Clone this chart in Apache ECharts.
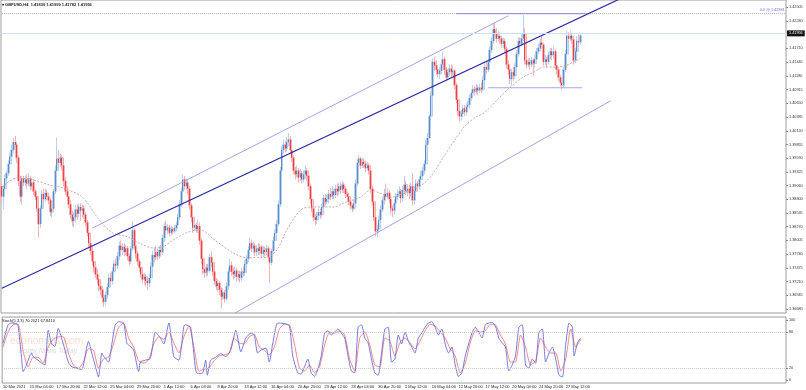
<!DOCTYPE html>
<html><head><meta charset="utf-8">
<script src="https://cdn.jsdelivr.net/npm/echarts@6/dist/echarts.min.js"></script>
<style>html,body{margin:0;padding:0;background:#fff}#c{width:806px;height:390px}</style>
</head><body><div id="c"></div><script>
// ---- tick labels ----
const timeLabels = ["10 Mar 2021","15 Mar 04:00","17 Mar 20:00","22 Mar 12:00","25 Mar 04:00","29 Mar 20:00","1 Apr 12:00","6 Apr 04:00","8 Apr 20:00","13 Apr 12:00","16 Apr 04:00","20 Apr 20:00","23 Apr 12:00","28 Apr 04:00","30 Apr 20:00","5 May 12:00","10 May 04:00","12 May 20:00","17 May 12:00","20 May 04:00","24 May 20:00","27 May 12:00"];
const priceTicks = [1.36680,1.36945,1.37210,1.37475,1.37740,1.38005,1.38270,1.38535,1.38800,1.39060,1.39325,1.39590,1.39855,1.40120,1.40385,1.40650,1.40915,1.41180,1.41445,1.41710,1.42240,1.42505];
const stochTicks = [0,20,80,100];
// ---- GBPUSD H4 candles (one line per trading day) ----
const open = [
1.3905,1.3885,1.3900,
1.3920,1.3930,1.3948,1.3962,1.3975,1.3990,
1.3985,1.3960,1.3915,1.3885,1.3920,1.3912,
1.3918,1.3910,1.3920,1.3905,1.3912,1.3895,
1.3885,1.3862,1.3832,1.3862,1.3890,1.3880,
1.3892,1.3885,1.3878,1.3855,1.3862,1.3895,
1.3935,1.3958,1.3950,1.3960,1.3945,1.3915,
1.3895,1.3885,1.3870,1.3850,1.3838,1.3845,
1.3860,1.3852,1.3865,1.3858,1.3862,1.3850,
1.3835,1.3815,1.3795,1.3780,1.3760,1.3748,
1.3735,1.3725,1.3712,1.3705,1.3690,1.3682,
1.3695,1.3710,1.3728,1.3722,1.3740,1.3755,
1.3752,1.3770,1.3790,1.3782,1.3788,1.3778,
1.3785,1.3770,1.3760,1.3785,1.3820,1.3790,
1.3775,1.3760,1.3748,1.3735,1.3725,1.3730,
1.3722,1.3718,1.3728,1.3750,1.3772,1.3768,
1.3778,1.3770,1.3782,1.3778,1.3805,1.3828,
1.3820,1.3825,1.3815,1.3822,1.3818,1.3824,
1.3830,1.3845,1.3870,1.3895,1.3918,1.3905,
1.3912,1.3900,1.3868,1.3845,1.3825,1.3830,
1.3822,1.3828,1.3800,1.3765,1.3745,1.3738,
1.3748,1.3742,1.3768,1.3758,1.3740,1.3722,
1.3712,1.3718,1.3705,1.3692,1.3700,1.3688,
1.3712,1.3740,1.3752,1.3740,1.3735,1.3742,
1.3730,1.3735,1.3728,1.3740,1.3738,1.3755,
1.3765,1.3782,1.3795,1.3785,1.3790,1.3778,
1.3785,1.3780,1.3788,1.3775,1.3782,1.3778,
1.3785,1.3768,1.3758,1.3780,1.3800,1.3815,
1.3832,1.3870,1.3935,1.3975,1.3985,1.3978,
1.3990,1.3995,1.3975,1.3960,1.3935,1.3928,
1.3935,1.3922,1.3930,1.3918,1.3928,1.3935,
1.3925,1.3905,1.3880,1.3862,1.3845,1.3840,
1.3848,1.3855,1.3850,1.3865,1.3882,1.3875,
1.3880,1.3890,1.3885,1.3895,1.3888,1.3900,
1.3895,1.3905,1.3898,1.3908,1.3900,1.3890,
1.3885,1.3875,1.3868,1.3862,1.3872,1.3910,
1.3950,1.3958,1.3945,1.3952,1.3948,1.3940,
1.3945,1.3935,1.3900,1.3875,1.3845,1.3818,
1.3822,1.3840,1.3860,1.3878,1.3890,1.3885,
1.3892,1.3880,1.3862,1.3858,1.3872,1.3885,
1.3890,1.3895,1.3882,1.3898,1.3908,1.3895,
1.3900,1.3892,1.3905,1.3878,1.3895,1.3910,
1.3905,1.3918,1.3925,1.3935,1.3948,1.3985,
1.3998,1.4040,1.4080,1.4145,1.4138,1.4130,
1.4122,1.4128,1.4140,1.4150,1.4130,1.4115,
1.4125,1.4132,1.4125,1.4128,1.4100,1.4072,
1.4050,1.4040,1.4045,1.4055,1.4048,1.4058,
1.4062,1.4075,1.4085,1.4092,1.4088,1.4095,
1.4090,1.4095,1.4092,1.4110,1.4135,1.4130,
1.4145,1.4168,1.4185,1.4208,1.4200,1.4190,
1.4195,1.4190,1.4180,1.4185,1.4170,1.4140,
1.4130,1.4112,1.4125,1.4118,1.4135,1.4160,
1.4185,1.4180,1.4190,1.4200,1.4148,1.4140,
1.4145,1.4140,1.4148,1.4142,1.4150,1.4165,
1.4172,1.4182,1.4178,1.4145,1.4150,1.4145,
1.4158,1.4165,1.4158,1.4165,1.4138,1.4130,
1.4115,1.4105,1.4100,1.4130,1.4160,1.4195,
1.4190,1.4195,1.4188,1.4148,1.4165,1.4185,
1.41830];
const close = [
1.3885,1.3900,1.3920,
1.3930,1.3948,1.3962,1.3975,1.3990,1.3985,
1.3960,1.3915,1.3885,1.3920,1.3912,1.3918,
1.3910,1.3920,1.3905,1.3912,1.3895,1.3885,
1.3862,1.3832,1.3862,1.3890,1.3880,1.3892,
1.3885,1.3878,1.3855,1.3862,1.3895,1.3935,
1.3958,1.3950,1.3960,1.3945,1.3915,1.3895,
1.3885,1.3870,1.3850,1.3838,1.3845,1.3860,
1.3852,1.3865,1.3858,1.3862,1.3850,1.3835,
1.3815,1.3795,1.3780,1.3760,1.3748,1.3735,
1.3725,1.3712,1.3705,1.3690,1.3682,1.3695,
1.3710,1.3728,1.3722,1.3740,1.3755,1.3752,
1.3770,1.3790,1.3782,1.3788,1.3778,1.3785,
1.3770,1.3760,1.3785,1.3820,1.3790,1.3775,
1.3760,1.3748,1.3735,1.3725,1.3730,1.3722,
1.3718,1.3728,1.3750,1.3772,1.3768,1.3778,
1.3770,1.3782,1.3778,1.3805,1.3828,1.3820,
1.3825,1.3815,1.3822,1.3818,1.3824,1.3830,
1.3845,1.3870,1.3895,1.3918,1.3905,1.3912,
1.3900,1.3868,1.3845,1.3825,1.3830,1.3822,
1.3828,1.3800,1.3765,1.3745,1.3738,1.3748,
1.3742,1.3768,1.3758,1.3740,1.3722,1.3712,
1.3718,1.3705,1.3692,1.3700,1.3688,1.3712,
1.3740,1.3752,1.3740,1.3735,1.3742,1.3730,
1.3735,1.3728,1.3740,1.3738,1.3755,1.3765,
1.3782,1.3795,1.3785,1.3790,1.3778,1.3785,
1.3780,1.3788,1.3775,1.3782,1.3778,1.3785,
1.3768,1.3758,1.3780,1.3800,1.3815,1.3832,
1.3870,1.3935,1.3975,1.3985,1.3978,1.3990,
1.3995,1.3975,1.3960,1.3935,1.3928,1.3935,
1.3922,1.3930,1.3918,1.3928,1.3935,1.3925,
1.3905,1.3880,1.3862,1.3845,1.3840,1.3848,
1.3855,1.3850,1.3865,1.3882,1.3875,1.3880,
1.3890,1.3885,1.3895,1.3888,1.3900,1.3895,
1.3905,1.3898,1.3908,1.3900,1.3890,1.3885,
1.3875,1.3868,1.3862,1.3872,1.3910,1.3950,
1.3958,1.3945,1.3952,1.3948,1.3940,1.3945,
1.3935,1.3900,1.3875,1.3845,1.3818,1.3822,
1.3840,1.3860,1.3878,1.3890,1.3885,1.3892,
1.3880,1.3862,1.3858,1.3872,1.3885,1.3890,
1.3895,1.3882,1.3898,1.3908,1.3895,1.3900,
1.3892,1.3905,1.3878,1.3895,1.3910,1.3905,
1.3918,1.3925,1.3935,1.3948,1.3985,1.3998,
1.4040,1.4080,1.4145,1.4138,1.4130,1.4122,
1.4128,1.4140,1.4150,1.4130,1.4115,1.4125,
1.4132,1.4125,1.4128,1.4100,1.4072,1.4050,
1.4040,1.4045,1.4055,1.4048,1.4058,1.4062,
1.4075,1.4085,1.4092,1.4088,1.4095,1.4090,
1.4095,1.4092,1.4110,1.4135,1.4130,1.4145,
1.4168,1.4185,1.4208,1.4200,1.4190,1.4195,
1.4190,1.4180,1.4185,1.4170,1.4140,1.4130,
1.4112,1.4125,1.4118,1.4135,1.4160,1.4185,
1.4180,1.4190,1.4200,1.4148,1.4140,1.4145,
1.4140,1.4148,1.4142,1.4150,1.4165,1.4172,
1.4182,1.4178,1.4145,1.4150,1.4145,1.4158,
1.4165,1.4158,1.4165,1.4138,1.4130,1.4115,
1.4105,1.4100,1.4130,1.4160,1.4195,1.4190,
1.4195,1.4188,1.4148,1.4165,1.4185,1.4183,
1.41956];
const low = [
1.3870,1.3860,1.3895,
1.3912,1.3925,1.3940,1.3955,1.3968,1.3975,
1.3950,1.3905,1.3875,1.3870,1.3905,1.3905,
1.3900,1.3905,1.3898,1.3898,1.3888,1.3878,
1.3855,1.3806,1.3825,1.3858,1.3872,1.3875,
1.3878,1.3870,1.3848,1.3845,1.3858,1.3890,
1.3930,1.3940,1.3942,1.3935,1.3905,1.3888,
1.3875,1.3862,1.3842,1.3828,1.3825,1.3835,
1.3840,1.3845,1.3838,1.3845,1.3842,1.3828,
1.3808,1.3788,1.3772,1.3752,1.3738,1.3728,
1.3715,1.3702,1.3695,1.3680,1.3672,1.3675,
1.3688,1.3702,1.3712,1.3715,1.3732,1.3742,
1.3745,1.3762,1.3775,1.3772,1.3770,1.3772,
1.3762,1.3752,1.3755,1.3780,1.3782,1.3765,
1.3752,1.3740,1.3728,1.3718,1.3715,1.3712,
1.3705,1.3710,1.3720,1.3745,1.3758,1.3762,
1.3762,1.3765,1.3770,1.3772,1.3798,1.3812,
1.3812,1.3808,1.3810,1.3812,1.3814,1.3818,
1.3825,1.3840,1.3865,1.3888,1.3898,1.3898,
1.3890,1.3860,1.3835,1.3815,1.3818,1.3815,
1.3815,1.3792,1.3755,1.3735,1.3728,1.3730,
1.3732,1.3738,1.3748,1.3732,1.3715,1.3705,
1.3702,1.3695,1.3670,1.3685,1.3680,1.3684,
1.3705,1.3735,1.3732,1.3725,1.3728,1.3722,
1.3722,1.3720,1.3722,1.3730,1.3732,1.3748,
1.3758,1.3775,1.3778,1.3775,1.3770,1.3770,
1.3772,1.3772,1.3768,1.3768,1.3770,1.3772,
1.3760,1.3718,1.3752,1.3775,1.3795,1.3810,
1.3828,1.3865,1.3930,1.3968,1.3970,1.3972,
1.3982,1.3968,1.3952,1.3928,1.3918,1.3922,
1.3912,1.3915,1.3910,1.3912,1.3920,1.3915,
1.3898,1.3872,1.3855,1.3838,1.3830,1.3832,
1.3840,1.3842,1.3845,1.3860,1.3868,1.3870,
1.3872,1.3878,1.3880,1.3880,1.3882,1.3885,
1.3888,1.3890,1.3892,1.3892,1.3882,1.3875,
1.3868,1.3860,1.3855,1.3858,1.3868,1.3905,
1.3942,1.3938,1.3940,1.3940,1.3932,1.3935,
1.3928,1.3892,1.3868,1.3838,1.3808,1.3806,
1.3815,1.3835,1.3855,1.3870,1.3878,1.3880,
1.3872,1.3852,1.3845,1.3850,1.3865,1.3878,
1.3882,1.3872,1.3875,1.3890,1.3888,1.3885,
1.3880,1.3885,1.3868,1.3870,1.3888,1.3895,
1.3898,1.3910,1.3918,1.3928,1.3942,1.3975,
1.3995,1.4035,1.4075,1.4128,1.4120,1.4115,
1.4112,1.4120,1.4135,1.4120,1.4108,1.4110,
1.4118,1.4115,1.4118,1.4092,1.4065,1.4042,
1.4030,1.4032,1.4038,1.4040,1.4042,1.4050,
1.4055,1.4070,1.4080,1.4080,1.4082,1.4082,
1.4085,1.4085,1.4088,1.4105,1.4122,1.4125,
1.4140,1.4162,1.4180,1.4192,1.4182,1.4185,
1.4180,1.4172,1.4172,1.4162,1.4132,1.4120,
1.4102,1.4100,1.4108,1.4112,1.4130,1.4155,
1.4172,1.4175,1.4185,1.4140,1.4132,1.4135,
1.4130,1.4135,1.4118,1.4135,1.4142,1.4160,
1.4165,1.4170,1.4138,1.4138,1.4135,1.4140,
1.4150,1.4148,1.4150,1.4130,1.4120,1.4108,
1.4098,1.4092,1.4095,1.4125,1.4155,1.4182,
1.4185,1.4180,1.4140,1.4142,1.4160,1.4175,
1.41782];
const high = [
1.3912,1.3908,1.3928,
1.3935,1.3955,1.3970,1.3985,1.3998,1.4002,
1.3990,1.3965,1.3925,1.3925,1.3925,1.3925,
1.3928,1.3930,1.3925,1.3920,1.3918,1.3900,
1.3890,1.3868,1.3868,1.3898,1.3900,1.3900,
1.3898,1.3892,1.3882,1.3870,1.3900,1.3945,
1.3999,1.3975,1.3968,1.3965,1.3950,1.3922,
1.3905,1.3892,1.3878,1.3858,1.3855,1.3868,
1.3870,1.3872,1.3872,1.3870,1.3868,1.3855,
1.3840,1.3820,1.3800,1.3788,1.3765,1.3755,
1.3745,1.3732,1.3722,1.3712,1.3698,1.3702,
1.3718,1.3735,1.3738,1.3748,1.3762,1.3765,
1.3778,1.3798,1.3800,1.3795,1.3795,1.3792,
1.3790,1.3775,1.3790,1.3838,1.3825,1.3798,
1.3780,1.3765,1.3752,1.3742,1.3738,1.3735,
1.3730,1.3735,1.3758,1.3780,1.3785,1.3790,
1.3785,1.3790,1.3792,1.3812,1.3835,1.3838,
1.3832,1.3830,1.3828,1.3826,1.3830,1.3836,
1.3852,1.3878,1.3902,1.3927,1.3925,1.3920,
1.3918,1.3905,1.3872,1.3850,1.3838,1.3835,
1.3840,1.3835,1.3805,1.3772,1.3752,1.3755,
1.3755,1.3775,1.3778,1.3762,1.3745,1.3728,
1.3725,1.3722,1.3710,1.3708,1.3705,1.3720,
1.3748,1.3765,1.3760,1.3748,1.3750,1.3748,
1.3742,1.3742,1.3748,1.3750,1.3762,1.3772,
1.3790,1.3806,1.3802,1.3798,1.3795,1.3792,
1.3795,1.3795,1.3792,1.3790,1.3788,1.3792,
1.3790,1.3772,1.3785,1.3808,1.3822,1.3840,
1.3878,1.3942,1.3982,1.3995,1.3992,1.4000,
1.4008,1.4002,1.3982,1.3965,1.3942,1.3945,
1.3940,1.3938,1.3935,1.3935,1.3945,1.3940,
1.3930,1.3910,1.3885,1.3868,1.3852,1.3855,
1.3862,1.3862,1.3872,1.3888,1.3890,1.3888,
1.3898,1.3902,1.3905,1.3900,1.3908,1.3910,
1.3912,1.3912,1.3915,1.3912,1.3905,1.3895,
1.3892,1.3880,1.3872,1.3878,1.3918,1.3958,
1.3965,1.3962,1.3960,1.3958,1.3955,1.3952,
1.3950,1.3940,1.3905,1.3880,1.3850,1.3830,
1.3848,1.3868,1.3885,1.3900,1.3910,1.3902,
1.3898,1.3885,1.3868,1.3880,1.3892,1.3898,
1.3905,1.3900,1.3905,1.3925,1.3915,1.3908,
1.3908,1.3912,1.3930,1.3905,1.3918,1.3915,
1.3925,1.3935,1.3942,1.3955,1.3995,1.4008,
1.4045,1.4088,1.4152,1.4155,1.4148,1.4138,
1.4135,1.4150,1.4165,1.4155,1.4135,1.4132,
1.4140,1.4140,1.4138,1.4132,1.4105,1.4078,
1.4055,1.4052,1.4062,1.4062,1.4065,1.4070,
1.4082,1.4092,1.4100,1.4098,1.4102,1.4100,
1.4102,1.4105,1.4118,1.4142,1.4145,1.4152,
1.4175,1.4192,1.4218,1.4222,1.4210,1.4205,
1.4202,1.4195,1.4192,1.4190,1.4175,1.4148,
1.4135,1.4132,1.4135,1.4142,1.4168,1.4192,
1.4192,1.4198,1.4235,1.4210,1.4155,1.4152,
1.4152,1.4155,1.4152,1.4158,1.4172,1.4180,
1.4190,1.4195,1.4182,1.4158,1.4155,1.4165,
1.4172,1.4172,1.4175,1.4170,1.4142,1.4135,
1.4120,1.4110,1.4135,1.4168,1.4205,1.4202,
1.4205,1.4200,1.4192,1.4172,1.4195,1.4198,
1.41995];
// ---- moving average: [bar, price] ----
const maPoints = [[0,1.3903],[9,1.3921],[19,1.3917],[29,1.3907],[36,1.3902],[48,1.3884],[58,1.3840],[66,1.3815],[75,1.3807],[82,1.3795],[90,1.3786],[96,1.3788],[102,1.3801],[110,1.3815],[118,1.3821],[127,1.3801],[138,1.3776],[146,1.3767],[158,1.3768],[164,1.3782],[170,1.3821],[178,1.3859],[184,1.3865],[198,1.3865],[204,1.3873],[214,1.3884],[220,1.3898],[225,1.3892],[233,1.3884],[237,1.3888],[246,1.3898],[255,1.3921],[264,1.3965],[270,1.3994],[276,1.4021],[282,1.4037],[288,1.4048],[297,1.4077],[303,1.4096],[311,1.4116],[317,1.4125],[323,1.4135],[331,1.4135],[337,1.4139],[341,1.4145],[345,1.4152]];
// ---- drawn objects: [bar, price] ----
const channelMid = [[0,1.3708],[380,1.4284]];
const channelUp = [[54,1.3824],[302,1.4234]];
const channelLow = [[139,1.3660],[363,1.4070]];
const supportLine = [[290,1.4095],[346,1.4095]];
const fibSegment = [[271,1.42381],[348,1.42381]];
const fibLevelLine = [[0,1.42381],[467,1.42381]];
const fibLabelPoint = [[467,1.42381]];
const bidPrice = 1.41956;
// ---- stochastic (5,3,3): [bar, value] ----
const stochK = [[0,61],[3,92],[5,95],[8,94],[9,90],[11,40],[12,14],[14,25],[17,45],[18,39],[21,33],[23,28],[25,25],[27,83],[29,60],[31,56],[33,86],[36,60],[39,30],[41,22],[44,20],[47,17],[50,55],[51,64],[53,45],[56,14],[57,5],[59,45],[60,40],[63,30],[65,60],[67,92],[69,97],[72,95],[74,61],[76,56],[78,50],[81,14],[82,30],[85,33],[88,36],[91,80],[94,70],[96,60],[99,95],[102,39],[105,33],[108,90],[109,92],[112,88],[115,17],[116,11],[119,11],[121,33],[122,8],[124,33],[127,38],[130,44],[133,39],[136,50],[139,83],[142,47],[145,70],[148,78],[150,75],[152,45],[154,50],[157,53],[159,30],[161,60],[164,95],[168,94],[171,90],[173,40],[176,12],[178,10],[180,22],[182,35],[184,12],[186,6],[188,18],[190,40],[192,78],[194,82],[196,75],[198,80],[200,85],[202,78],[204,70],[206,40],[208,15],[210,12],[212,88],[214,92],[216,70],[218,62],[220,35],[222,12],[224,8],[226,45],[228,85],[230,88],[232,30],[234,35],[236,75],[238,60],[240,80],[242,65],[244,55],[246,45],[248,70],[250,78],[252,88],[254,95],[256,97],[258,88],[260,75],[262,85],[264,60],[266,45],[268,55],[270,25],[272,6],[274,12],[276,40],[278,60],[280,78],[282,88],[284,80],[286,70],[288,92],[290,95],[292,96],[294,90],[296,70],[298,62],[300,55],[302,15],[304,25],[306,40],[308,88],[310,92],[312,25],[314,20],[316,35],[318,28],[320,80],[322,85],[324,30],[326,45],[328,55],[330,35],[332,8],[334,5],[336,60],[338,95],[340,88],[341,40],[343,62],[345,70.2]];
const stochD = [[0,55],[3,80],[6,92],[9,93],[12,48],[15,22],[18,38],[21,38],[24,28],[27,55],[30,68],[33,72],[36,72],[39,45],[42,25],[45,19],[48,30],[51,52],[54,50],[57,20],[60,35],[63,38],[66,60],[69,88],[72,95],[75,70],[78,55],[81,32],[84,28],[87,34],[90,60],[93,72],[96,68],[99,80],[102,62],[105,45],[108,72],[111,90],[114,55],[117,15],[120,18],[123,20],[126,32],[129,40],[132,42],[135,45],[138,70],[141,62],[144,60],[147,72],[150,76],[153,55],[156,50],[159,42],[162,55],[165,85],[168,93],[171,92],[174,60],[177,20],[180,15],[183,25],[186,12],[189,22],[192,58],[195,80],[198,78],[201,82],[204,75],[207,35],[210,15],[213,70],[216,80],[219,58],[222,25],[225,22],[228,70],[231,65],[234,40],[237,62],[240,70],[243,62],[246,52],[249,65],[252,82],[255,93],[258,90],[261,80],[264,70],[267,52],[270,40],[273,12],[276,28],[279,62],[282,82],[285,80],[288,82],[291,93],[294,92],[297,75],[300,60],[303,30],[306,30],[309,75],[312,55],[315,25],[318,32],[321,70],[324,55],[327,45],[330,45],[333,15],[336,35],[339,85],[342,55],[345,67.8]];

// ---- build ----
const TOTAL = 468;
const cats = []; for (let i = 0; i < TOTAL; i++) cats.push(String(i));
const ohlc = open.map((o, i) => [o, close[i], low[i], high[i]]);
const bodies = open.map((o, i) => [o, close[i], Math.min(o, close[i]), Math.max(o, close[i])]);
const F = 'Liberation Sans, Arial, sans-serif';
const chart = echarts.init(document.getElementById('c'), null, {renderer: 'canvas'});
const lineS = (data, color, width, extra) => Object.assign({type: 'line', xAxisIndex: 0, yAxisIndex: 0, data, symbol: 'none', silent: true, animation: false, lineStyle: {color, width}}, extra || {});
chart.setOption({
  animation: false,
  backgroundColor: '#ffffff',
  textStyle: {fontFamily: F},
  title: [
    {text: '\u25BE GBPUSD,H4  1.41830 1.41999 1.41782 1.41956', left: 2, top: 3, padding: 0, textStyle: {fontSize: 4, fontWeight: 'bold', color: '#222', fontFamily: F}},
    {text: 'Stoch(5,3,3) 70.2021 67.8410', left: 2, top: 319, padding: 0, textStyle: {fontSize: 4, fontWeight: 'normal', color: '#222', fontFamily: F}}
  ],
  graphic: [
    {type: 'text', left: 10, top: 336, z: -1, silent: true, style: {text: 'economies.com', fontSize: 10.5, fill: '#f8dfcf', fontFamily: F}},
    {type: 'text', left: 19, top: 348, z: -1, silent: true, style: {text: 'Forex News Today', fontSize: 7, fill: '#d8d8d8', fontStyle: 'italic', fontFamily: F}}
  ],
  grid: [
    {left: 1, right: 20, top: 0, height: 313, show: true, borderColor: '#9c9c9c', borderWidth: 1, backgroundColor: 'transparent'},
    {left: 1, right: 20, top: 317, height: 66, show: true, borderColor: '#9c9c9c', borderWidth: 1, backgroundColor: 'transparent'}
  ],
  xAxis: [
    {type: 'category', gridIndex: 0, data: cats, boundaryGap: true, axisLine: {show: false}, axisTick: {show: false}, axisLabel: {show: false}, splitLine: {show: false}},
    {type: 'category', gridIndex: 1, data: cats, boundaryGap: true, axisLine: {show: false}, axisTick: {show: false}, splitLine: {show: false},
     axisLabel: {show: true, interval: (idx) => idx % 16 === 0 && idx / 16 < timeLabels.length, formatter: (v, idx) => timeLabels[Math.round(Number(v) / 16)] || '', align: 'left', fontSize: 4, color: '#222', margin: 2, fontFamily: F}}
  ],
  yAxis: [
    {type: 'value', gridIndex: 0, position: 'right', min: 1.36603, max: 1.42644, scale: true, splitLine: {show: false}, axisLine: {show: false},
     axisTick: {show: true, customValues: priceTicks, length: 2, lineStyle: {color: '#888'}},
     axisLabel: {show: true, customValues: priceTicks, formatter: (v) => Number(v).toFixed(5), fontSize: 3.8, color: '#333', margin: 3, fontFamily: F}},
    {type: 'value', gridIndex: 1, position: 'right', min: -5, max: 105, splitLine: {show: false}, axisLine: {show: false},
     axisTick: {show: true, customValues: stochTicks, length: 2, lineStyle: {color: '#888'}},
     axisLabel: {show: true, customValues: stochTicks, formatter: (v) => String(v), fontSize: 3.8, color: '#333', margin: 3, fontFamily: F}}
  ],
  series: [
    lineS(fibLevelLine, '#a8a8a8', 1, {lineStyle: {color: '#a8a8a8', width: 1, type: 'dotted'}, z: 1}),
    {type: 'scatter', xAxisIndex: 0, yAxisIndex: 0, data: fibLabelPoint, symbolSize: 1, itemStyle: {color: 'rgba(0,0,0,0)'}, silent: true,
     label: {show: true, position: [0, -1], align: 'right', verticalAlign: 'bottom', formatter: '0.0 @ 1.42381', color: '#4646c8', fontSize: 3.8, fontFamily: F}},
    {type: 'candlestick', name: 'halo', xAxisIndex: 0, yAxisIndex: 0, data: ohlc, barWidth: 2.4, silent: true,
     itemStyle: {color: '#cddff2', color0: '#f9c8c8', borderColor: '#b9cfea', borderColor0: '#f4b2b2', borderWidth: 1},
     markLine: {silent: true, symbol: ['none', 'none'], animation: false, data: [
       {yAxis: bidPrice, lineStyle: {color: '#cfe0f5', type: 'solid', width: 1}, label: {show: true, position: 'end', formatter: '1.41956', color: '#fff', backgroundColor: '#111', padding: [1, 2, 1, 2], fontSize: 3.8, distance: 1, fontFamily: F}}
     ]}},
    {type: 'candlestick', name: 'body', xAxisIndex: 0, yAxisIndex: 0, data: bodies, barWidth: 1, silent: true,
     itemStyle: {color: '#3b7ac4', color0: '#ef1c24', borderColor: '#3b7ac4', borderColor0: '#ef1c24', borderWidth: 0.8}},
    lineS(maPoints, '#cf9a9a', 0.9, {smooth: 0.3, lineStyle: {color: '#cf9a9a', width: 0.9, type: [2, 1.5]}}),
    lineS(channelMid, '#2a2aa6', 1.2),
    lineS(channelUp, '#a4a4e6', 1),
    lineS(channelLow, '#a4a4e6', 1),
    lineS(supportLine, '#a4a4e6', 1),
    lineS(fibSegment, '#8a8ad8', 1),
    {type: 'line', xAxisIndex: 1, yAxisIndex: 1, data: stochD, symbol: 'none', silent: true, smooth: 0.2, lineStyle: {color: '#f27c7c', width: 0.9},
     markLine: {silent: true, symbol: ['none', 'none'], label: {show: false}, lineStyle: {color: '#c8c8c8', type: 'dotted', width: 1}, data: [{yAxis: 20}, {yAxis: 80}]}},
    {type: 'line', xAxisIndex: 1, yAxisIndex: 1, data: stochK, symbol: 'none', silent: true, smooth: 0.2, lineStyle: {color: '#6a6ad8', width: 0.9}}
  ]
});
</script></body></html>
